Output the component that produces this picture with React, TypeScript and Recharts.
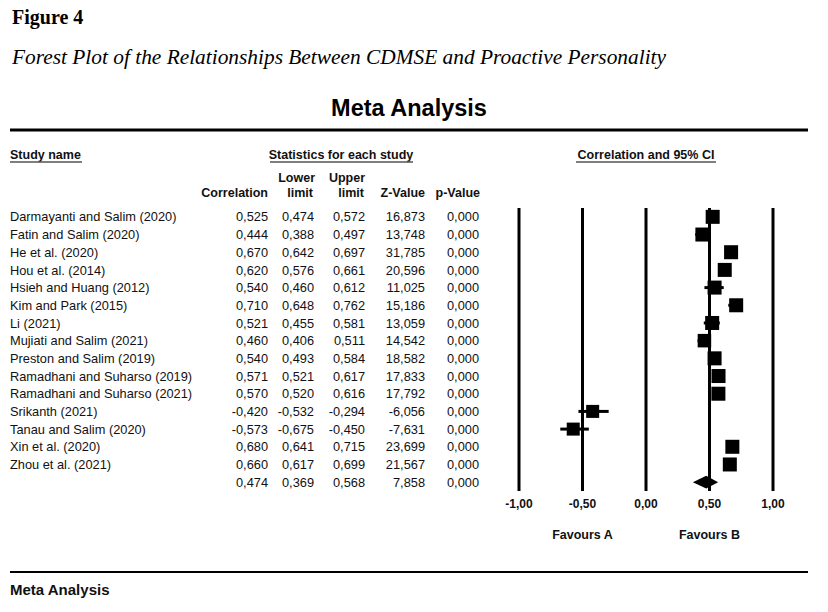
import React from 'react';
import { ScatterChart, Scatter, XAxis, YAxis, ErrorBar, ReferenceLine } from 'recharts';

const studies = [
  'Darmayanti and Salim (2020)',
  'Fatin and Salim (2020)',
  'He et al. (2020)',
  'Hou et al. (2014)',
  'Hsieh and Huang (2012)',
  'Kim and Park (2015)',
  'Li (2021)',
  'Mujiati and Salim (2021)',
  'Preston and Salim (2019)',
  'Ramadhani and Suharso (2019)',
  'Ramadhani and Suharso (2021)',
  'Srikanth (2021)',
  'Tanau and Salim (2020)',
  'Xin et al. (2020)',
  'Zhou et al. (2021)',
];
const correlation = [0.525, 0.444, 0.67, 0.62, 0.54, 0.71, 0.521, 0.46, 0.54, 0.571, 0.57, -0.42, -0.573, 0.68, 0.66];
const lowerLimit = [0.474, 0.388, 0.642, 0.576, 0.46, 0.648, 0.455, 0.406, 0.493, 0.521, 0.52, -0.532, -0.675, 0.641, 0.617];
const upperLimit = [0.572, 0.497, 0.697, 0.661, 0.612, 0.762, 0.581, 0.511, 0.584, 0.617, 0.616, -0.294, -0.45, 0.715, 0.699];
const zValue = [16.873, 13.748, 31.785, 20.596, 11.025, 15.186, 13.059, 14.542, 18.582, 17.833, 17.792, -6.056, -7.631, 23.699, 21.567];
const pValue = [0, 0, 0, 0, 0, 0, 0, 0, 0, 0, 0, 0, 0, 0, 0];
// relative weight -> square side
const weights = [14, 14, 14, 14, 14, 14, 14, 13.5, 14, 14, 14, 13, 13, 14, 14];

const summaryRow = { r: 0.474, lo: 0.369, hi: 0.568, z: 7.858, p: 0 };
const xTicks = [-1, -0.5, 0, 0.5, 1];
const favours: Record<string, string> = { '-0.5': 'Favours A', '0.5': 'Favours B' };

const sans = '"Liberation Sans", Arial, sans-serif';
const serif = '"Liberation Serif", "Times New Roman", serif';
const colRight = [268, 314, 365, 425, 479];

const fmt = (v: number, d = 3) => v.toFixed(d).replace('.', ',');

const studyPoints = studies.map((s, i) => ({
  x: correlation[i],
  y: i,
  err: [correlation[i] - lowerLimit[i], upperLimit[i] - correlation[i]],
  w: weights[i],
}));

const sumIdx = studies.length;
const dh = 0.36;
const diamondPoints = [
  { x: summaryRow.lo, y: sumIdx },
  { x: summaryRow.r, y: sumIdx - dh },
  { x: summaryRow.hi, y: sumIdx },
  { x: summaryRow.r, y: sumIdx + dh },
];

const rowTicks = [...studies.map((_, i) => i), sumIdx];

const RowTick = (props: any) => {
  const { y, payload } = props;
  const i = payload.value;
  const isSum = i >= studies.length;
  const name = isSum ? '' : studies[i];
  const vals = isSum
    ? [summaryRow.r, summaryRow.lo, summaryRow.hi, summaryRow.z, summaryRow.p]
    : [correlation[i], lowerLimit[i], upperLimit[i], zValue[i], pValue[i]];
  return (
    <g fontFamily={sans} fontSize={12.8} fill="#111">
      {name && (
        <text x={10} y={y} dy="0.36em" fill="#111">
          {name}
        </text>
      )}
      {vals.map((v, k) => (
        <text key={k} x={colRight[k]} y={y} dy="0.36em" textAnchor="end" fill="#111">
          {fmt(v)}
        </text>
      ))}
    </g>
  );
};

const XTick = (props: any) => {
  const { x, y, payload } = props;
  const extra = favours[String(payload.value)];
  return (
    <g fontFamily={sans} fontSize={12} fontWeight="bold" fill="#111">
      <text x={x} y={y} dy="0.71em" textAnchor="middle" fill="#111">
        {fmt(payload.value, 2)}
      </text>
      {extra && (
        <text x={x} y={y + 35} dy="0.36em" textAnchor="middle" fill="#111" fontSize={12.5}>
          {extra}
        </text>
      )}
    </g>
  );
};

const Header = () => (
  <svg width={828} height={612} style={{ position: 'absolute', left: 0, top: 0, pointerEvents: 'none' }}>
    <text x={12} y={24} fontFamily={serif} fontWeight="bold" fontSize={20} fill="#000">
      Figure 4
    </text>
    <text x={12} y={64} fontFamily={serif} fontStyle="italic" fontSize={20} fill="#000" textLength={654} lengthAdjust="spacingAndGlyphs">
      Forest Plot of the Relationships Between CDMSE and Proactive Personality
    </text>
    <text x={409} y={116} fontFamily={sans} fontWeight="bold" fontSize={23.5} textAnchor="middle" fill="#000">
      Meta Analysis
    </text>
    <line x1={10} x2={808} y1={130} y2={130} stroke="#000" strokeWidth={3} />

    <g fontFamily={sans} fontWeight="bold" fontSize={12.5} fill="#111">
      <text x={10} y={159}>Study name</text>
      <line x1={10} x2={82} y1={162} y2={162} stroke="#555" strokeWidth={1.5} />
      <text x={341} y={159} textAnchor="middle">Statistics for each study</text>
      <line x1={270} x2={413} y1={162} y2={162} stroke="#555" strokeWidth={1.5} />
      <text x={646} y={159} textAnchor="middle">Correlation and 95% CI</text>
      <line x1={576} x2={716} y1={162} y2={162} stroke="#555" strokeWidth={1.5} />

      <text x={315} y={182} textAnchor="end">Lower</text>
      <text x={365} y={182} textAnchor="end">Upper</text>
      <text x={268} y={197} textAnchor="end">Correlation</text>
      <text x={313} y={197} textAnchor="end">limit</text>
      <text x={364} y={197} textAnchor="end">limit</text>
      <text x={425} y={197} textAnchor="end">Z-Value</text>
      <text x={480} y={197} textAnchor="end">p-Value</text>
    </g>

    <line x1={10} x2={808} y1={572} y2={572} stroke="#000" strokeWidth={2} />
    <text x={10} y={595} fontFamily={sans} fontWeight="bold" fontSize={15} fill="#111">
      Meta Analysis
    </text>
  </svg>
);

export default function App() {
  return (
    <div style={{ position: 'relative', width: 828, height: 612, background: '#fff' }}>
      <style>{'body{margin:0}'}</style>
      <ScatterChart width={828} height={612} margin={{ top: 208, right: 55, bottom: 91, left: 0 }}>
        <XAxis
          type="number"
          dataKey="x"
          domain={[-1, 1]}
          ticks={xTicks}
          allowDataOverflow
          axisLine={false}
          tickLine={false}
          height={30}
          interval={0}
          tick={<XTick />}
        />
        <YAxis
          type="number"
          dataKey="y"
          domain={[-0.5, sumIdx + 0.5]}
          ticks={rowTicks}
          reversed
          allowDataOverflow
          axisLine={false}
          tickLine={false}
          width={519}
          interval={0}
          tick={<RowTick />}
        />
        {xTicks.map((t) => (
          <ReferenceLine key={t} x={t} stroke="#000" strokeWidth={3} />
        ))}
        <Scatter
          data={studyPoints}
          fill="#000"
          isAnimationActive={false}
          shape={(p: any) => {
            const s = p.payload.w;
            return <rect x={p.cx - s / 2} y={p.cy - s / 2} width={s} height={s} fill="#000" />;
          }}
        >
          <ErrorBar dataKey="err" direction="x" width={0} stroke="#000" strokeWidth={3} />
        </Scatter>
        <Scatter
          data={diamondPoints}
          fill="#000"
          isAnimationActive={false}
          shape={() => <g />}
          lineType="joint"
          line={(p: any) => (
            <polygon points={(p.points || []).map((pt: any) => `${pt.x},${pt.y}`).join(' ')} fill="#000" stroke="none" />
          )}
        />
      </ScatterChart>
      <Header />
    </div>
  );
}
